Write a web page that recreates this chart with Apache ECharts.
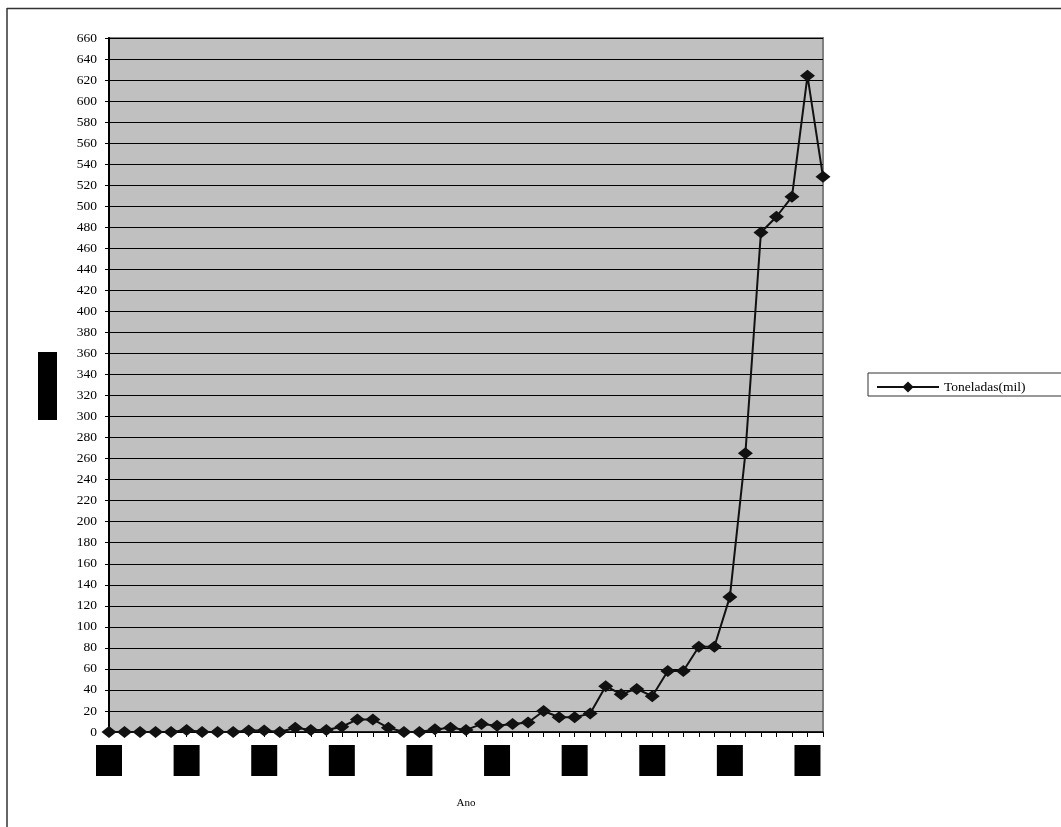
<!DOCTYPE html>
<html>
<head>
<meta charset="utf-8">
<script src="https://cdn.jsdelivr.net/npm/echarts@6/dist/echarts.min.js"></script>
<style>
  html, body { margin: 0; padding: 0; background: #fff; }
  #chart { width: 1061px; height: 827px; }
</style>
</head>
<body>
<div id="chart"></div>
<script>
// Yearly production, thousand tonnes
const anos = [];
for (let a = 1960; a <= 2006; a++) anos.push(String(a));
const toneladas = [
  0, 0, 0, 0, 0, 2, 0, 0, 0, 1.5,
  1.5, 0, 4, 2, 2, 5, 12, 12, 4, 0,
  0, 2.5, 4, 2, 7.5, 6, 7.5, 9, 20, 14,
  14, 17.5, 43.5, 36, 41, 34, 58, 58, 81, 81,
  128.5, 265, 475, 490, 509, 624, 528
];
const serieNome = 'Toneladas(mil)';
const eixoX = 'Ano';
const eixoY = 'Toneladas';

const serif = '"Liberation Serif", "Times New Roman", serif';
const chart = echarts.init(document.getElementById('chart'));
chart.setOption({
  animation: false,
  backgroundColor: '#fff',
  grid: {
    left: 109, top: 38, right: 238, bottom: 95,
    show: true, backgroundColor: '#c0c0c0', borderColor: '#808080', borderWidth: 2
  },
  xAxis: {
    type: 'category',
    data: anos,
    boundaryGap: false,
    name: eixoX,
    nameLocation: 'middle',
    nameGap: 66,
    nameTextStyle: { fontFamily: serif, fontSize: 11, color: '#000' },
    axisLine: { lineStyle: { color: '#000', width: 1.5 } },
    axisTick: { show: true, interval: 0, length: 5, lineStyle: { color: '#000' } },
    axisLabel: {
      interval: 4,
      margin: 13,
      fontFamily: serif,
      fontSize: 12,
      color: '#000',
      backgroundColor: '#000',
      width: 26,
      height: 31,
      lineHeight: 31,
      align: 'center'
    },
    splitLine: { show: false }
  },
  yAxis: {
    type: 'value',
    min: 0, max: 660, interval: 20,
    axisLine: { show: true, lineStyle: { color: '#000', width: 2 } },
    axisTick: { show: true, length: 4, lineStyle: { color: '#000' } },
    axisLabel: { fontFamily: serif, fontSize: 13.5, color: '#000', margin: 12 },
    splitLine: { show: true, lineStyle: { color: '#000', width: 1 } }
  },
  legend: {
    data: [serieNome],
    left: 871,
    top: 375,
    itemWidth: 62,
    itemHeight: 14,
    itemGap: 4,
    textStyle: { fontFamily: serif, fontSize: 13.5, color: '#000' }
  },
  graphic: [
    { type: 'line', shape: { x1: 7, y1: 8.5, x2: 1065, y2: 8.5 }, style: { stroke: '#333', lineWidth: 1.5 }, silent: true },
    { type: 'line', shape: { x1: 7, y1: 8, x2: 7, y2: 830 }, style: { stroke: '#333', lineWidth: 1.5 }, silent: true },
    { type: 'rect', shape: { x: 868, y: 373, width: 200, height: 23 }, style: { fill: 'none', stroke: '#333', lineWidth: 1 }, silent: true },
    {
      type: 'text', x: 47.5, y: 386, rotation: Math.PI / 2,
      style: {
        text: eixoY, fill: '#000', backgroundColor: '#000',
        font: '12px ' + serif, width: 68, height: 19, lineHeight: 19,
        align: 'center', verticalAlign: 'middle'
      },
      silent: true
    }
  ],
  series: [{
    name: serieNome,
    type: 'line',
    data: toneladas,
    symbol: 'diamond',
    symbolSize: [15, 12],
    showAllSymbol: true,
    lineStyle: { color: '#111', width: 2 },
    itemStyle: { color: '#111' }
  }]
});
</script>
</body>
</html>
